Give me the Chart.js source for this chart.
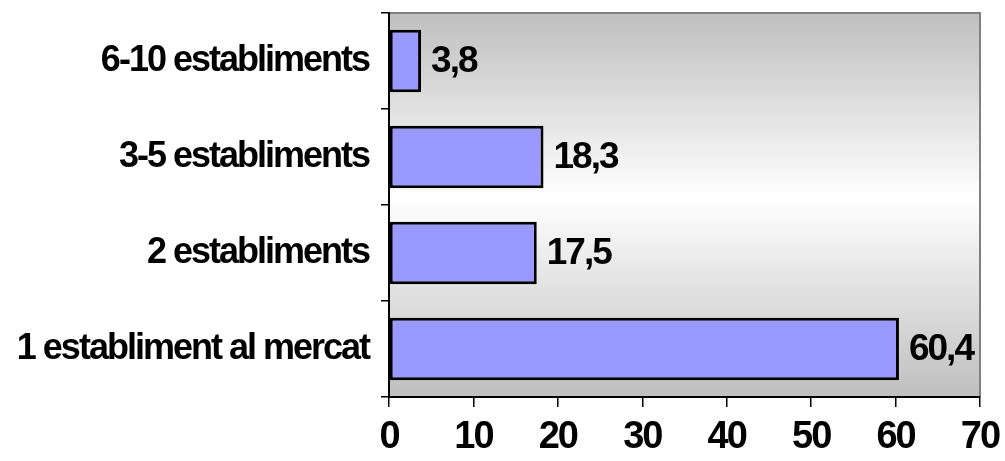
<!DOCTYPE html>
<html>
<head>
<meta charset="utf-8">
<script src="https://cdn.jsdelivr.net/npm/chart.js@4/dist/chart.umd.min.js"></script>
<style>
    body { margin: 0; background: #fff; }
    canvas { display: block; }
</style>
</head>
<body>
<canvas id="chart" width="1005" height="461"></canvas>
<script>
// Data
const categories = ['6-10 establiments', '3-5 establiments', '2 establiments', '1 establiment al mercat'];
const values = [3.8, 18.3, 17.5, 60.4];
const xTicks = [0, 10, 20, 30, 40, 50, 60, 70];

const FONT = '"Liberation Sans", Arial, sans-serif';

function formatValue(v) {
    return v.toFixed(1).replace('.', ',');
}

// gradient background + gray frame on top/right
const backgroundPlugin = {
    id: 'plotBackground',
    beforeDraw(chart) {
        const { ctx, chartArea } = chart;
        ctx.letterSpacing = '-2px';
        const g = ctx.createLinearGradient(0, chartArea.top, 0, chartArea.bottom);
        g.addColorStop(0, '#bfbfbf');
        g.addColorStop(0.48, '#ffffff');
        g.addColorStop(1, '#bfbfbf');
        ctx.save();
        ctx.fillStyle = g;
        ctx.fillRect(chartArea.left, chartArea.top, chartArea.right - chartArea.left, chartArea.bottom - chartArea.top);
        ctx.strokeStyle = '#808080';
        ctx.lineWidth = 2;
        ctx.beginPath();
        ctx.moveTo(chartArea.left, chartArea.top);
        ctx.lineTo(chartArea.right, chartArea.top);
        ctx.lineTo(chartArea.right, chartArea.bottom);
        ctx.stroke();
        ctx.restore();
    }
};

// value labels at the end of each bar
const valueLabels = {
    id: 'valueLabels',
    afterDatasetsDraw(chart) {
        const { ctx } = chart;
        const meta = chart.getDatasetMeta(0);
        ctx.save();
        ctx.letterSpacing = '-2px';
        ctx.font = 'bold 37px ' + FONT;
        ctx.fillStyle = '#000';
        ctx.textAlign = 'left';
        ctx.textBaseline = 'middle';
        meta.data.forEach((bar, i) => {
            ctx.fillText(formatValue(values[i]), bar.x + 10, bar.y + 1);
        });
        ctx.restore();
    }
};

const ctx = document.getElementById('chart').getContext('2d');
new Chart(ctx, {
    type: 'bar',
    data: {
        labels: categories,
        datasets: [{
            data: values,
            backgroundColor: '#9999ff',
            borderColor: '#000',
            borderWidth: 3,
            borderSkipped: false,
            barPercentage: 0.65,
            categoryPercentage: 1
        }]
    },
    options: {
        indexAxis: 'y',
        responsive: false,
        animation: false,
        layout: { padding: { top: 13, right: 25, left: 0, bottom: 0 } },
        plugins: {
            legend: { display: false },
            tooltip: { enabled: false }
        },
        scales: {
            x: {
                min: 0,
                max: 70,
                afterBuildTicks(scale) {
                    scale.ticks = xTicks.map(v => ({ value: v }));
                },
                afterFit(scale) {
                    scale.height = 64;
                    scale.paddingLeft = 0;
                    scale.paddingRight = 0;
                },
                grid: { drawOnChartArea: false, tickLength: 10, color: '#000', lineWidth: 1.5 },
                border: { color: '#000', width: 2 },
                ticks: {
                    color: '#000',
                    padding: 8,
                    maxRotation: 0,
                    font: { family: FONT, size: 38, weight: 'bold' }
                }
            },
            y: {
                afterFit(scale) {
                    scale.width = 389;
                    scale.paddingTop = 0;
                    scale.paddingBottom = 0;
                },
                grid: { offset: true, drawOnChartArea: false, tickLength: 8, color: '#000', lineWidth: 1.5 },
                border: { color: '#000', width: 2 },
                ticks: {
                    color: '#000',
                    padding: 12,
                    font: { family: FONT, size: 36, weight: 'bold' }
                }
            }
        }
    },
    plugins: [backgroundPlugin, valueLabels]
});
</script>
</body>
</html>
